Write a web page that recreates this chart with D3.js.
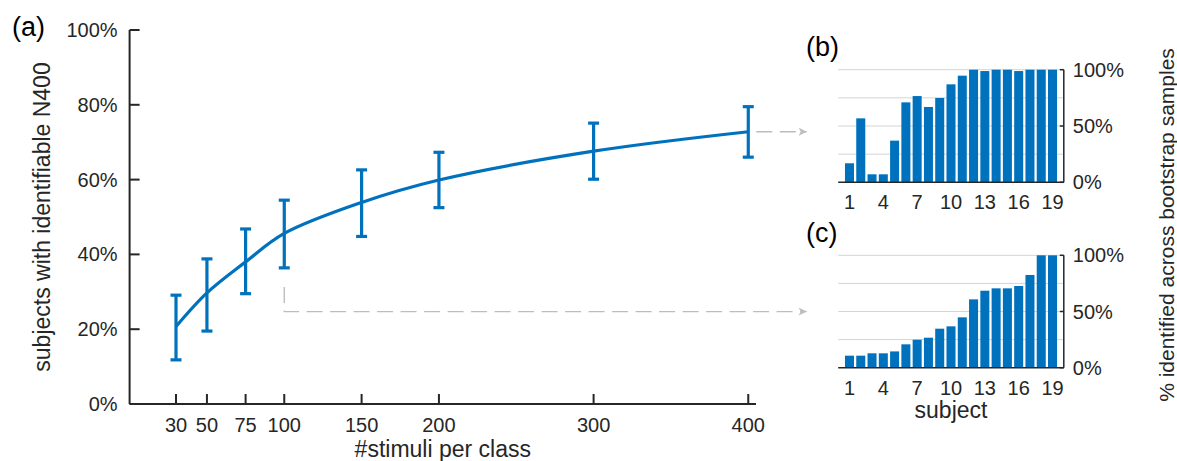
<!DOCTYPE html>
<html>
<head>
<meta charset="utf-8">
<script src="https://cdn.jsdelivr.net/npm/d3@7/dist/d3.min.js"></script>
<style>
  body{margin:0;background:#fff;}
  text{font-family:"Liberation Sans",Arial,Helvetica,sans-serif;fill:#262626;}
</style>
</head>
<body>
<div id="chart"></div>
<script>
var svgW=1177,svgH=461;
var blue="#0072BD",axiscolor="#262626",gridcolor="#d4d4d4",dashcolor="#bdbdbd";

// (a) mean and error bounds per number of stimuli
var stimuli=[30,50,75,100,150,200,300,400];
var meanvals=[0.207,0.297,0.380,0.456,0.539,0.599,0.676,0.728];
var upper=[0.291,0.388,0.468,0.545,0.626,0.673,0.751,0.795];
var lower=[0.118,0.195,0.295,0.364,0.448,0.525,0.601,0.660];
var ticksA=[0,0.2,0.4,0.6,0.8,1];

// (b) and (c) per subject
var subjects=d3.range(1,20);
var valsB=[0.169,0.568,0.071,0.071,0.370,0.710,0.766,0.669,0.749,0.870,0.947,1.0,0.988,1.0,1.0,0.988,1.0,1.0,1.0];
var valsC=[0.107,0.107,0.128,0.128,0.145,0.208,0.249,0.267,0.347,0.368,0.448,0.608,0.685,0.706,0.706,0.727,0.825,1.0,1.0];
var subjectticks=[1,4,7,10,13,16,19];
var ticksBar=[0,0.5,1];
var gridBar=[0.25,0.5,0.75,1];

var svg=d3.select("#chart").append("svg")
    .attr("width",svgW).attr("height",svgH);

//================ panel (a) ================
var x=d3.scaleLinear().domain([0,405]).range([129.6,756]);
var y=d3.scaleLinear().domain([0,1]).range([404,30]);

var ga=svg.append("g").attr("id","panela");

ga.append("line").attr("x1",x(0)).attr("x2",x(405)).attr("y1",y(0)).attr("y2",y(0))
    .attr("stroke",axiscolor).attr("stroke-width",2);
ga.append("line").attr("x1",x(0)).attr("x2",x(0)).attr("y1",y(0)).attr("y2",y(1))
    .attr("stroke",axiscolor).attr("stroke-width",2);

ga.selectAll(".ytick").data(ticksA).enter().append("line")
    .attr("x1",x(0)).attr("x2",x(0)+10)
    .attr("y1",function(d){return y(d);}).attr("y2",function(d){return y(d);})
    .attr("stroke",axiscolor).attr("stroke-width",2);
ga.selectAll(".ylab").data(ticksA).enter().append("text")
    .attr("x",x(0)-12).attr("y",function(d){return y(d);})
    .attr("dy","0.35em").attr("text-anchor","end")
    .style("font-size","20px")
    .text(function(d){return Math.round(d*100)+"%";});

ga.selectAll(".xtick").data(stimuli).enter().append("line")
    .attr("x1",function(d){return x(d);}).attr("x2",function(d){return x(d);})
    .attr("y1",y(0)).attr("y2",y(0)-10)
    .attr("stroke",axiscolor).attr("stroke-width",2);
ga.selectAll(".xlab").data(stimuli).enter().append("text")
    .attr("x",function(d){return x(d);}).attr("y",432)
    .attr("text-anchor","middle")
    .style("font-size","20px")
    .text(function(d){return d;});

ga.append("text").attr("x",(x(0)+x(405))/2).attr("y",457)
    .attr("text-anchor","middle").style("font-size","23px")
    .text("#stimuli per class");
ga.append("text").attr("transform","translate(50,"+((y(0)+y(1))/2)+") rotate(-90)")
    .attr("text-anchor","middle").style("font-size","23px")
    .text("subjects with identifiable N400");
svg.append("text").attr("x",12).attr("y",36).style("font-size","27px").style("fill","#000").text("(a)");

// dashed arrows
var defs=svg.append("defs");
defs.append("marker").attr("id","arrowhead")
    .attr("viewBox","0 0 10 10").attr("refX",10).attr("refY",5)
    .attr("markerWidth",10).attr("markerHeight",8).attr("markerUnits","userSpaceOnUse")
    .attr("orient","auto")
    .append("path").attr("d","M0,0 L10,5 L0,10 L2.5,5 Z").attr("fill",dashcolor);

ga.append("path")
    .attr("d","M"+(x(400)+8)+","+y(meanvals[7])+" H806.7")
    .attr("fill","none").attr("stroke",dashcolor).attr("stroke-width",1.4)
    .attr("stroke-dasharray","16,7.5").attr("marker-end","url(#arrowhead)");
ga.append("path")
    .attr("d","M"+x(100)+","+y(0.313)+" V"+y(0.247)+" H806.7")
    .attr("fill","none").attr("stroke",dashcolor).attr("stroke-width",1.4)
    .attr("stroke-dasharray","16,7.5").attr("marker-end","url(#arrowhead)");

// line + error bars
var pts=stimuli.map(function(s,i){return [s,meanvals[i]];});
ga.append("path").datum(pts)
    .attr("d",d3.line().x(function(d){return x(d[0]);}).y(function(d){return y(d[1]);}).curve(d3.curveCatmullRom.alpha(0.5)))
    .attr("fill","none").attr("stroke",blue).attr("stroke-width",3.2);

var eb=ga.selectAll(".errbar").data(stimuli).enter().append("g");
eb.append("line")
    .attr("x1",function(d){return x(d);}).attr("x2",function(d){return x(d);})
    .attr("y1",function(d,i){return y(upper[i]);}).attr("y2",function(d,i){return y(lower[i]);})
    .attr("stroke",blue).attr("stroke-width",3.2);
eb.append("line")
    .attr("x1",function(d){return x(d)-5.5;}).attr("x2",function(d){return x(d)+5.5;})
    .attr("y1",function(d,i){return y(upper[i]);}).attr("y2",function(d,i){return y(upper[i]);})
    .attr("stroke",blue).attr("stroke-width",3.2);
eb.append("line")
    .attr("x1",function(d){return x(d)-5.5;}).attr("x2",function(d){return x(d)+5.5;})
    .attr("y1",function(d,i){return y(lower[i]);}).attr("y2",function(d,i){return y(lower[i]);})
    .attr("stroke",blue).attr("stroke-width",3.2);

//================ panels (b) (c) ================
var xb=d3.scaleLinear().domain([0,20]).range([838.2,1063.8]);
var barw=(xb(1)-xb(0))*0.8;

function barpanel(id,vals,ybot,ytop,label,labely,showtitle){
    var yb=d3.scaleLinear().domain([0,1]).range([ybot,ytop]);
    var g=svg.append("g").attr("id",id);

    g.selectAll(".grid").data(gridBar).enter().append("line")
        .attr("x1",xb(0)).attr("x2",xb(20))
        .attr("y1",function(d){return yb(d);}).attr("y2",function(d){return yb(d);})
        .attr("stroke",gridcolor).attr("stroke-width",1);

    g.selectAll(".bar").data(vals).enter().append("rect")
        .attr("x",function(d,i){return xb(subjects[i])-barw/2;})
        .attr("width",barw)
        .attr("y",function(d){return yb(d);})
        .attr("height",function(d){return yb(0)-yb(d);})
        .attr("fill",blue);

    g.append("line").attr("x1",xb(0)).attr("x2",xb(20)).attr("y1",yb(0)).attr("y2",yb(0))
        .attr("stroke",axiscolor).attr("stroke-width",1.5);
    g.append("line").attr("x1",xb(20)).attr("x2",xb(20)).attr("y1",yb(0)).attr("y2",yb(1))
        .attr("stroke",axiscolor).attr("stroke-width",1.5);

    g.selectAll(".rtick").data(ticksBar).enter().append("line")
        .attr("x1",xb(20)-4).attr("x2",xb(20))
        .attr("y1",function(d){return yb(d);}).attr("y2",function(d){return yb(d);})
        .attr("stroke",axiscolor).attr("stroke-width",1.5);
    g.selectAll(".rlab").data(ticksBar).enter().append("text")
        .attr("x",xb(20)+9).attr("y",function(d){return yb(d);})
        .attr("dy","0.35em").style("font-size","20px")
        .text(function(d){return Math.round(d*100)+"%";});

    g.selectAll(".blab").data(subjectticks).enter().append("text")
        .attr("x",function(d){return xb(d);}).attr("y",yb(0)+27)
        .attr("text-anchor","middle").style("font-size","20px")
        .text(function(d){return d;});

    svg.append("text").attr("x",806).attr("y",labely).style("font-size","27px").style("fill","#000").text(label);

    if(showtitle){
        g.append("text").attr("x",(xb(0)+xb(20))/2).attr("y",yb(0)+50)
            .attr("text-anchor","middle").style("font-size","23px").text("subject");
    }
}

barpanel("panelb",valsB,182.3,69.7,"(b)",56,false);
barpanel("panelc",valsC,367.7,255.3,"(c)",242,true);

svg.append("text").attr("transform","translate(1174,225) rotate(-90)")
    .attr("text-anchor","middle").style("font-size","21px")
    .text("% identified across bootstrap samples");
</script>
</body>
</html>
